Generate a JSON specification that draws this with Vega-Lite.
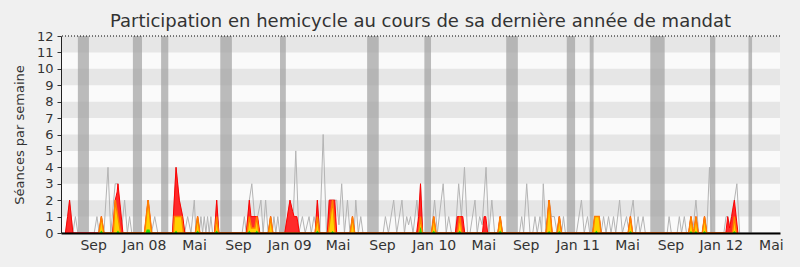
{
  "$schema": "https://vega.github.io/schema/vega-lite/v6.json",
  "width": 719,
  "height": 197,
  "autosize": {"type": "none"},
  "padding": {"left": 61, "top": 36, "right": 20, "bottom": 34},
  "background": "#f0f0f0",
  "config": {
    "view": {"fill": "#fafafa", "stroke": null},
    "font": "DejaVu Sans",
    "axisY": {"labelOverlap": false, "labelFlush": false, "grid": false, "labelFontSize": 13, "labelColor": "#333333", "tickSize": 4, "tickColor": "#333333", "domainColor": "#222222", "labelPadding": 4, "titleFontSize": 13, "titleFontWeight": "normal", "titleColor": "#333333", "titlePadding": 10, "zindex": 1},
    "axisX": {"ticks": false, "tickSize": 0, "grid": false, "labelFontSize": 14, "labelColor": "#333333", "domainColor": "#000000", "domainWidth": 2, "labelPadding": 5, "labelOverlap": false, "labelFlush": false, "zindex": 1}
  },
  "title": {"text": "Participation en hemicycle au cours de sa dernière année de mandat", "fontSize": 18, "font": "DejaVu Sans", "fontWeight": "normal", "color": "#333333", "anchor": "middle", "frame": "group", "offset": -1},
  "datasets": {
    "bandes": [{"bas": 1, "haut": 2}, {"bas": 3, "haut": 4}, {"bas": 5, "haut": 6}, {"bas": 7, "haut": 8}, {"bas": 9, "haut": 10}, {"bas": 11, "haut": 12}],
    "vacances": [{"debut": 6.1, "fin": 10.1}, {"debut": 26, "fin": 29.3}, {"debut": 36.2, "fin": 38.8}, {"debut": 57.6, "fin": 61.8}, {"debut": 79.2, "fin": 81.3}, {"debut": 110.7, "fin": 114.9}, {"debut": 131.4, "fin": 133.8}, {"debut": 161, "fin": 165.2}, {"debut": 182.9, "fin": 185.9}, {"debut": 191.2, "fin": 192.6}, {"debut": 213.1, "fin": 218.3}, {"debut": 234.7, "fin": 236.6}, {"debut": 248.6, "fin": 249.9}],
    "total": [
      {"w": 0, "v": 0}, {"w": 1.6, "v": 0}, {"w": 3.1, "v": 2}, {"w": 4.3, "v": 0}, {"w": 5.2, "v": 1}, {"w": 6.1, "v": 0},
      {"w": 12, "v": 0}, {"w": 13, "v": 1}, {"w": 13.8, "v": 0}, {"w": 14.6, "v": 1}, {"w": 15.5, "v": 0}, {"w": 17, "v": 4}, {"w": 18, "v": 0}, {"w": 19.6, "v": 3}, {"w": 20.6, "v": 3}, {"w": 21.8, "v": 0}, {"w": 23, "v": 2}, {"w": 24, "v": 0}, {"w": 24.8, "v": 1}, {"w": 25.6, "v": 0},
      {"w": 30.2, "v": 0}, {"w": 31.5, "v": 2}, {"w": 32.7, "v": 0}, {"w": 33.9, "v": 1}, {"w": 35, "v": 0},
      {"w": 40.3, "v": 0}, {"w": 41.6, "v": 4}, {"w": 42.8, "v": 2}, {"w": 44, "v": 1}, {"w": 44.7, "v": 0}, {"w": 45.8, "v": 1}, {"w": 47, "v": 0}, {"w": 48.2, "v": 2}, {"w": 48.8, "v": 0}, {"w": 49.4, "v": 1}, {"w": 50, "v": 0}, {"w": 50.6, "v": 1}, {"w": 51.2, "v": 0}, {"w": 51.8, "v": 1}, {"w": 52.4, "v": 0}, {"w": 53, "v": 1}, {"w": 53.6, "v": 0}, {"w": 54.2, "v": 1}, {"w": 54.8, "v": 0}, {"w": 55.5, "v": 0}, {"w": 56.3, "v": 2}, {"w": 57.1, "v": 0},
      {"w": 65.5, "v": 0}, {"w": 66.3, "v": 1}, {"w": 67, "v": 0}, {"w": 68.1, "v": 2}, {"w": 69, "v": 3}, {"w": 70, "v": 1}, {"w": 71.1, "v": 1}, {"w": 72.3, "v": 2}, {"w": 73.1, "v": 0}, {"w": 74, "v": 2}, {"w": 74.9, "v": 0}, {"w": 75.8, "v": 1}, {"w": 76.4, "v": 0}, {"w": 77, "v": 1}, {"w": 77.7, "v": 0}, {"w": 78.4, "v": 1}, {"w": 79.1, "v": 0},
      {"w": 81, "v": 0}, {"w": 82.8, "v": 2}, {"w": 84, "v": 1}, {"w": 84.9, "v": 5}, {"w": 86, "v": 0}, {"w": 87.3, "v": 1}, {"w": 88.3, "v": 0}, {"w": 89.7, "v": 1}, {"w": 90.5, "v": 0}, {"w": 91.5, "v": 1}, {"w": 92.1, "v": 0.5}, {"w": 92.7, "v": 2}, {"w": 93.6, "v": 0}, {"w": 94.8, "v": 6}, {"w": 96, "v": 0}, {"w": 97, "v": 2}, {"w": 99.7, "v": 2}, {"w": 100.5, "v": 0.5}, {"w": 101.5, "v": 3}, {"w": 102.5, "v": 0}, {"w": 103.6, "v": 2}, {"w": 104.5, "v": 0}, {"w": 105.4, "v": 1}, {"w": 106, "v": 0}, {"w": 106.6, "v": 2}, {"w": 107.5, "v": 0}, {"w": 108.4, "v": 1}, {"w": 109.2, "v": 0},
      {"w": 116.5, "v": 0}, {"w": 117.3, "v": 1}, {"w": 118.4, "v": 0}, {"w": 120.3, "v": 2}, {"w": 121.4, "v": 0}, {"w": 123.3, "v": 2}, {"w": 124.2, "v": 0}, {"w": 125, "v": 1}, {"w": 125.7, "v": 0.5}, {"w": 126.4, "v": 1}, {"w": 127.3, "v": 0}, {"w": 128.7, "v": 2}, {"w": 129.4, "v": 0.5}, {"w": 130, "v": 3}, {"w": 130.8, "v": 0},
      {"w": 133.9, "v": 0}, {"w": 135.1, "v": 2}, {"w": 136.1, "v": 0}, {"w": 138.2, "v": 3}, {"w": 139.3, "v": 0}, {"w": 140.2, "v": 1}, {"w": 141.2, "v": 0}, {"w": 142.6, "v": 0}, {"w": 143.8, "v": 3}, {"w": 144.8, "v": 1}, {"w": 145.9, "v": 4}, {"w": 147, "v": 0},
      {"w": 147.9, "v": 0}, {"w": 149.7, "v": 2}, {"w": 150.5, "v": 0}, {"w": 151.4, "v": 1}, {"w": 152.3, "v": 0.5}, {"w": 153.7, "v": 4}, {"w": 154.7, "v": 0}, {"w": 155.8, "v": 2}, {"w": 156.8, "v": 0}, {"w": 158, "v": 0}, {"w": 158.8, "v": 1}, {"w": 159.7, "v": 0},
      {"w": 165.8, "v": 0}, {"w": 166.6, "v": 1}, {"w": 167.3, "v": 0}, {"w": 168.4, "v": 3}, {"w": 169.6, "v": 0}, {"w": 170.6, "v": 0}, {"w": 171.4, "v": 1}, {"w": 172.2, "v": 0}, {"w": 173.2, "v": 1}, {"w": 173.8, "v": 0}, {"w": 174.4, "v": 3}, {"w": 175.4, "v": 0}, {"w": 176.5, "v": 2}, {"w": 177.4, "v": 1}, {"w": 178.4, "v": 1}, {"w": 179.4, "v": 0}, {"w": 180.2, "v": 1}, {"w": 181, "v": 0}, {"w": 181.7, "v": 1}, {"w": 182.4, "v": 0},
      {"w": 186.4, "v": 0}, {"w": 188.2, "v": 2}, {"w": 189.2, "v": 0}, {"w": 190.4, "v": 1}, {"w": 191.2, "v": 0},
      {"w": 192.3, "v": 0}, {"w": 193, "v": 1}, {"w": 194.6, "v": 1}, {"w": 195.3, "v": 0}, {"w": 196.2, "v": 1}, {"w": 197.1, "v": 0}, {"w": 198, "v": 1}, {"w": 198.9, "v": 0}, {"w": 199.8, "v": 1}, {"w": 200.6, "v": 0}, {"w": 202, "v": 2}, {"w": 203, "v": 0}, {"w": 204.5, "v": 1}, {"w": 205.2, "v": 0.3}, {"w": 205.9, "v": 1}, {"w": 206.9, "v": 2}, {"w": 207.8, "v": 0}, {"w": 208.7, "v": 1}, {"w": 209.4, "v": 0}, {"w": 210.5, "v": 1}, {"w": 211.3, "v": 0},
      {"w": 219.2, "v": 0}, {"w": 219.9, "v": 1}, {"w": 220.7, "v": 0}, {"w": 222.8, "v": 0}, {"w": 223.6, "v": 1}, {"w": 224.4, "v": 0}, {"w": 225.4, "v": 1}, {"w": 226.2, "v": 0}, {"w": 227, "v": 0}, {"w": 227.8, "v": 1}, {"w": 228.6, "v": 0.3}, {"w": 229.6, "v": 2}, {"w": 230.6, "v": 0}, {"w": 231.9, "v": 0}, {"w": 232.7, "v": 1}, {"w": 233.5, "v": 0}, {"w": 234.5, "v": 4}, {"w": 235.3, "v": 0},
      {"w": 239.7, "v": 0}, {"w": 240.5, "v": 1}, {"w": 241.1, "v": 1}, {"w": 241.8, "v": 0.5}, {"w": 242.4, "v": 1}, {"w": 243.5, "v": 2}, {"w": 244.4, "v": 3}, {"w": 245.4, "v": 0}, {"w": 260, "v": 0}
    ],
    "presence": [
      {"w": 1.6, "v": 0}, {"w": 2.4, "v": 1}, {"w": 3.1, "v": 2}, {"w": 4.3, "v": 0},
      {"w": 13.7, "v": 0}, {"w": 14.6, "v": 1}, {"w": 15.5, "v": 0},
      {"w": 18.6, "v": 0}, {"w": 19.6, "v": 2}, {"w": 20.3, "v": 2.5}, {"w": 20.6, "v": 3}, {"w": 22.4, "v": 0},
      {"w": 30.2, "v": 0}, {"w": 31.5, "v": 2}, {"w": 32.8, "v": 0},
      {"w": 40.3, "v": 0}, {"w": 41.6, "v": 4}, {"w": 42.8, "v": 2}, {"w": 44, "v": 1}, {"w": 44.8, "v": 0},
      {"w": 48.6, "v": 0}, {"w": 49.4, "v": 1}, {"w": 50.2, "v": 0},
      {"w": 55.5, "v": 0}, {"w": 56.3, "v": 2}, {"w": 57.1, "v": 0},
      {"w": 67, "v": 0}, {"w": 68.1, "v": 2}, {"w": 68.7, "v": 1}, {"w": 71.1, "v": 1}, {"w": 71.9, "v": 0},
      {"w": 75, "v": 0}, {"w": 75.8, "v": 1}, {"w": 76.6, "v": 0},
      {"w": 80.9, "v": 0}, {"w": 82.8, "v": 2}, {"w": 83.8, "v": 1.3}, {"w": 84.3, "v": 1}, {"w": 85.3, "v": 1}, {"w": 86.2, "v": 0},
      {"w": 91.9, "v": 0}, {"w": 92.7, "v": 2}, {"w": 93.5, "v": 0},
      {"w": 96.3, "v": 0}, {"w": 97, "v": 2}, {"w": 99, "v": 2}, {"w": 99.7, "v": 0},
      {"w": 104.6, "v": 0}, {"w": 105.4, "v": 1}, {"w": 106.2, "v": 0},
      {"w": 128.6, "v": 0}, {"w": 129.3, "v": 1}, {"w": 130, "v": 3}, {"w": 130.8, "v": 0},
      {"w": 134, "v": 0}, {"w": 134.8, "v": 1}, {"w": 135.6, "v": 0},
      {"w": 142.6, "v": 0}, {"w": 143.3, "v": 1}, {"w": 145.3, "v": 1}, {"w": 146, "v": 0},
      {"w": 152.4, "v": 0}, {"w": 153, "v": 1}, {"w": 153.6, "v": 1}, {"w": 154.3, "v": 0},
      {"w": 158, "v": 0}, {"w": 158.8, "v": 1}, {"w": 159.6, "v": 0},
      {"w": 175.4, "v": 0}, {"w": 176.5, "v": 2}, {"w": 177.6, "v": 0},
      {"w": 179.4, "v": 0}, {"w": 180.2, "v": 1}, {"w": 181, "v": 0},
      {"w": 192.3, "v": 0}, {"w": 193, "v": 1}, {"w": 194.6, "v": 1}, {"w": 195.3, "v": 0},
      {"w": 205.1, "v": 0}, {"w": 205.9, "v": 1}, {"w": 206.7, "v": 0},
      {"w": 227, "v": 0}, {"w": 227.8, "v": 1}, {"w": 228.6, "v": 0},
      {"w": 228.8, "v": 0}, {"w": 229.6, "v": 1}, {"w": 230.4, "v": 0},
      {"w": 231.9, "v": 0}, {"w": 232.7, "v": 1}, {"w": 233.5, "v": 0},
      {"w": 240.4, "v": 0}, {"w": 241.1, "v": 1}, {"w": 241.8, "v": 0.3}, {"w": 242.5, "v": 1}, {"w": 243.5, "v": 2}, {"w": 244.8, "v": 0}
    ],
    "interventions": [
      {"w": 13.7, "v": 0}, {"w": 14.6, "v": 1}, {"w": 15.5, "v": 0},
      {"w": 18.9, "v": 0}, {"w": 19.6, "v": 2}, {"w": 20.6, "v": 1}, {"w": 21.6, "v": 0},
      {"w": 30.2, "v": 0}, {"w": 31.5, "v": 2}, {"w": 32.8, "v": 0},
      {"w": 40.6, "v": 0}, {"w": 41, "v": 1}, {"w": 43.6, "v": 1}, {"w": 44.3, "v": 0},
      {"w": 48.6, "v": 0}, {"w": 49.4, "v": 1}, {"w": 50.2, "v": 0},
      {"w": 55.6, "v": 0}, {"w": 56.3, "v": 1}, {"w": 57, "v": 0},
      {"w": 67.3, "v": 0}, {"w": 68.1, "v": 1}, {"w": 68.9, "v": 0.3}, {"w": 70.1, "v": 0.3}, {"w": 70.8, "v": 1}, {"w": 71.6, "v": 0},
      {"w": 75, "v": 0}, {"w": 75.8, "v": 1}, {"w": 76.6, "v": 0},
      {"w": 91.9, "v": 0}, {"w": 92.7, "v": 1}, {"w": 93.5, "v": 0},
      {"w": 96.6, "v": 0}, {"w": 97.4, "v": 1}, {"w": 98.2, "v": 2}, {"w": 99.2, "v": 0},
      {"w": 104.6, "v": 0}, {"w": 105.4, "v": 1}, {"w": 106.2, "v": 0},
      {"w": 129.3, "v": 0}, {"w": 130, "v": 1}, {"w": 130.7, "v": 0},
      {"w": 134, "v": 0}, {"w": 134.8, "v": 1}, {"w": 135.6, "v": 0},
      {"w": 143.4, "v": 0}, {"w": 144.2, "v": 1}, {"w": 145, "v": 0},
      {"w": 158, "v": 0}, {"w": 158.8, "v": 1}, {"w": 159.6, "v": 0},
      {"w": 175.4, "v": 0}, {"w": 176.5, "v": 2}, {"w": 177.6, "v": 0},
      {"w": 179.4, "v": 0}, {"w": 180.2, "v": 1}, {"w": 181, "v": 0},
      {"w": 192.3, "v": 0}, {"w": 193, "v": 1}, {"w": 194.6, "v": 1}, {"w": 195.3, "v": 0},
      {"w": 205.1, "v": 0}, {"w": 205.9, "v": 1}, {"w": 206.7, "v": 0},
      {"w": 227, "v": 0}, {"w": 227.8, "v": 1}, {"w": 228.6, "v": 0},
      {"w": 228.8, "v": 0}, {"w": 229.6, "v": 1}, {"w": 230.4, "v": 0},
      {"w": 231.9, "v": 0}, {"w": 232.7, "v": 1}, {"w": 233.5, "v": 0},
      {"w": 242.8, "v": 0}, {"w": 243.5, "v": 1}, {"w": 244.3, "v": 0}
    ],
    "vert": [
      {"w": 14, "v": 0}, {"w": 14.6, "v": 0.15}, {"w": 15.2, "v": 0},
      {"w": 20, "v": 0}, {"w": 20.6, "v": 0.15}, {"w": 21.2, "v": 0},
      {"w": 30.6, "v": 0}, {"w": 31, "v": 0.22}, {"w": 32, "v": 0.22}, {"w": 32.4, "v": 0},
      {"w": 41, "v": 0}, {"w": 41.6, "v": 0.15}, {"w": 42.2, "v": 0},
      {"w": 48.8, "v": 0}, {"w": 49.4, "v": 0.15}, {"w": 50, "v": 0},
      {"w": 55.7, "v": 0}, {"w": 56.3, "v": 0.15}, {"w": 56.9, "v": 0},
      {"w": 67.5, "v": 0}, {"w": 68.1, "v": 0.15}, {"w": 68.7, "v": 0},
      {"w": 70.2, "v": 0}, {"w": 70.8, "v": 0.15}, {"w": 71.4, "v": 0},
      {"w": 92.1, "v": 0}, {"w": 92.7, "v": 0.15}, {"w": 93.3, "v": 0},
      {"w": 97.6, "v": 0}, {"w": 98.2, "v": 0.12}, {"w": 98.8, "v": 0},
      {"w": 129.5, "v": 0}, {"w": 130, "v": 0.4}, {"w": 130.5, "v": 0},
      {"w": 134.2, "v": 0}, {"w": 134.8, "v": 0.15}, {"w": 135.4, "v": 0},
      {"w": 143.6, "v": 0}, {"w": 144.2, "v": 0.15}, {"w": 144.8, "v": 0},
      {"w": 158.2, "v": 0}, {"w": 158.8, "v": 0.15}, {"w": 159.4, "v": 0},
      {"w": 175.9, "v": 0}, {"w": 176.5, "v": 0.12}, {"w": 177.1, "v": 0},
      {"w": 179.6, "v": 0}, {"w": 180.2, "v": 0.12}, {"w": 180.8, "v": 0},
      {"w": 193, "v": 0}, {"w": 193.6, "v": 0.15}, {"w": 194.2, "v": 0},
      {"w": 205.3, "v": 0}, {"w": 205.9, "v": 0.12}, {"w": 206.5, "v": 0},
      {"w": 227.2, "v": 0}, {"w": 227.8, "v": 0.12}, {"w": 228.4, "v": 0},
      {"w": 229, "v": 0}, {"w": 229.6, "v": 0.12}, {"w": 230.2, "v": 0},
      {"w": 232.1, "v": 0}, {"w": 232.7, "v": 0.12}, {"w": 233.3, "v": 0},
      {"w": 242.9, "v": 0}, {"w": 243.5, "v": 0.12}, {"w": 244.1, "v": 0}
    ],
    "plafond": [{"v": 12}]
  },
  "layer": [
    {
      "data": {"name": "bandes"},
      "mark": {"type": "rect", "color": "#e6e6e6"},
      "encoding": {
        "y": {"field": "bas", "type": "quantitative", "scale": {"domain": [0, 12], "nice": false, "zero": true},
              "axis": {"title": "Séances par semaine", "values": [0, 1, 2, 3, 4, 5, 6, 7, 8, 9, 10, 11, 12], "labelOverlap": false, "zindex": 1}},
        "y2": {"field": "haut"}
      }
    },
    {
      "data": {"name": "vacances"},
      "mark": {"type": "rect", "color": "#a0a0a0", "opacity": 0.7},
      "encoding": {
        "x": {"field": "debut", "type": "quantitative", "scale": {"domain": [0, 260], "nice": false, "zero": false},
              "axis": {"title": null, "values": [11.6, 30, 48.1, 64, 82.5, 100, 116.1, 134.8, 152.7, 168, 186.8, 204.7, 220.4, 238.6, 256.7],
                       "labelExpr": "['Sep','Jan 08','Mai','Sep','Jan 09','Mai','Sep','Jan 10','Mai','Sep','Jan 11','Mai','Sep','Jan 12','Mai'][indexof([11.6, 30, 48.1, 64, 82.5, 100, 116.1, 134.8, 152.7, 168, 186.8, 204.7, 220.4, 238.6, 256.7], datum.value)]", "labelOverlap": false, "zindex": 1}},
        "x2": {"field": "fin"}
      }
    },
    {
      "data": {"name": "total"},
      "mark": {"type": "line", "color": "#b4b4b4", "strokeWidth": 1},
      "encoding": {
        "x": {"field": "w", "type": "quantitative",
              "axis": {"title": null, "values": [11.6, 30, 48.1, 64, 82.5, 100, 116.1, 134.8, 152.7, 168, 186.8, 204.7, 220.4, 238.6, 256.7],
                       "labelExpr": "['Sep','Jan 08','Mai','Sep','Jan 09','Mai','Sep','Jan 10','Mai','Sep','Jan 11','Mai','Sep','Jan 12','Mai'][indexof([11.6, 30, 48.1, 64, 82.5, 100, 116.1, 134.8, 152.7, 168, 186.8, 204.7, 220.4, 238.6, 256.7], datum.value)]", "labelOverlap": false, "zindex": 1}},
        "y": {"field": "v", "type": "quantitative",
              "axis": {"title": "Séances par semaine", "values": [0, 1, 2, 3, 4, 5, 6, 7, 8, 9, 10, 11, 12], "labelOverlap": false, "zindex": 1}}
      }
    },
    {
      "data": {"name": "presence"},
      "mark": {"type": "area", "color": "#ff2a2a", "stroke": "#ff0000", "strokeWidth": 1},
      "encoding": {
        "x": {"field": "w", "type": "quantitative",
              "axis": {"title": null, "values": [11.6, 30, 48.1, 64, 82.5, 100, 116.1, 134.8, 152.7, 168, 186.8, 204.7, 220.4, 238.6, 256.7],
                       "labelExpr": "['Sep','Jan 08','Mai','Sep','Jan 09','Mai','Sep','Jan 10','Mai','Sep','Jan 11','Mai','Sep','Jan 12','Mai'][indexof([11.6, 30, 48.1, 64, 82.5, 100, 116.1, 134.8, 152.7, 168, 186.8, 204.7, 220.4, 238.6, 256.7], datum.value)]", "labelOverlap": false, "zindex": 1}},
        "y": {"field": "v", "type": "quantitative",
              "axis": {"title": "Séances par semaine", "values": [0, 1, 2, 3, 4, 5, 6, 7, 8, 9, 10, 11, 12], "labelOverlap": false, "zindex": 1}}
      }
    },
    {
      "data": {"name": "interventions"},
      "mark": {"type": "area", "color": "#ffd200", "stroke": "#ff7f00", "strokeWidth": 1.5},
      "encoding": {
        "x": {"field": "w", "type": "quantitative",
              "axis": {"title": null, "values": [11.6, 30, 48.1, 64, 82.5, 100, 116.1, 134.8, 152.7, 168, 186.8, 204.7, 220.4, 238.6, 256.7],
                       "labelExpr": "['Sep','Jan 08','Mai','Sep','Jan 09','Mai','Sep','Jan 10','Mai','Sep','Jan 11','Mai','Sep','Jan 12','Mai'][indexof([11.6, 30, 48.1, 64, 82.5, 100, 116.1, 134.8, 152.7, 168, 186.8, 204.7, 220.4, 238.6, 256.7], datum.value)]", "labelOverlap": false, "zindex": 1}},
        "y": {"field": "v", "type": "quantitative",
              "axis": {"title": "Séances par semaine", "values": [0, 1, 2, 3, 4, 5, 6, 7, 8, 9, 10, 11, 12], "labelOverlap": false, "zindex": 1}}
      }
    },
    {
      "data": {"name": "vert"},
      "mark": {"type": "area", "color": "#22dd00"},
      "encoding": {
        "x": {"field": "w", "type": "quantitative",
              "axis": {"title": null, "values": [11.6, 30, 48.1, 64, 82.5, 100, 116.1, 134.8, 152.7, 168, 186.8, 204.7, 220.4, 238.6, 256.7],
                       "labelExpr": "['Sep','Jan 08','Mai','Sep','Jan 09','Mai','Sep','Jan 10','Mai','Sep','Jan 11','Mai','Sep','Jan 12','Mai'][indexof([11.6, 30, 48.1, 64, 82.5, 100, 116.1, 134.8, 152.7, 168, 186.8, 204.7, 220.4, 238.6, 256.7], datum.value)]", "labelOverlap": false, "zindex": 1}},
        "y": {"field": "v", "type": "quantitative",
              "axis": {"title": "Séances par semaine", "values": [0, 1, 2, 3, 4, 5, 6, 7, 8, 9, 10, 11, 12], "labelOverlap": false, "zindex": 1}}
      }
    },
    {
      "data": {"name": "plafond"},
      "mark": {"type": "rule", "color": "#000000", "strokeDash": [1, 2], "strokeWidth": 1},
      "encoding": {
        "y": {"field": "v", "type": "quantitative",
              "axis": {"title": "Séances par semaine", "values": [0, 1, 2, 3, 4, 5, 6, 7, 8, 9, 10, 11, 12], "labelOverlap": false, "zindex": 1}}
      }
    }
  ]
}
